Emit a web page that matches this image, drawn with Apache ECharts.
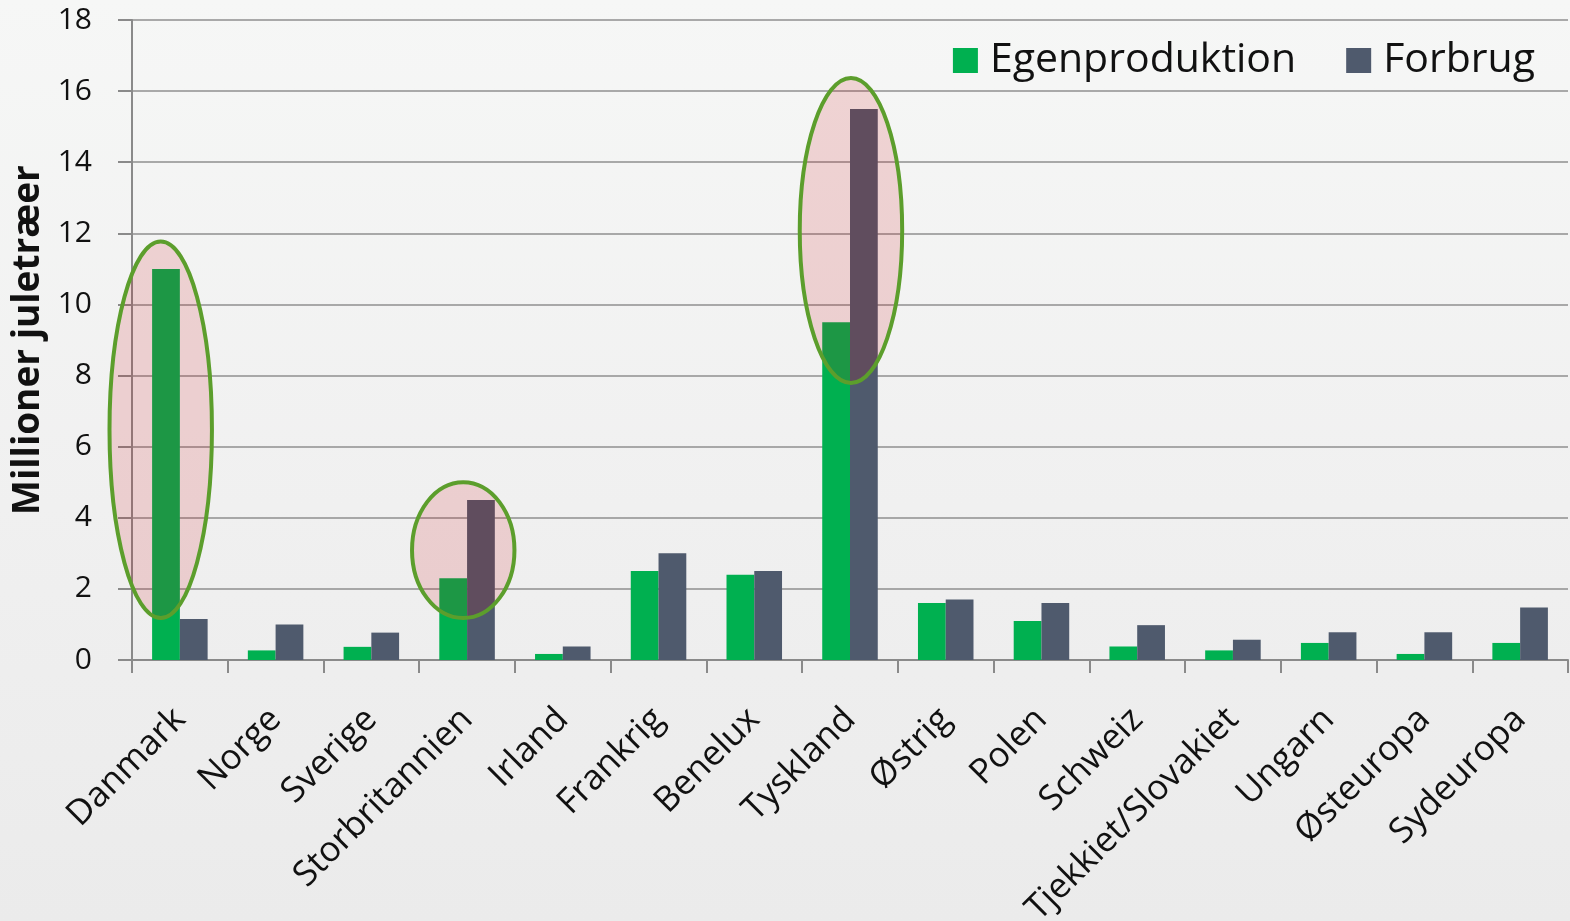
<!DOCTYPE html>
<html>
<head>
<meta charset="utf-8">
<script src="https://cdn.jsdelivr.net/npm/echarts@6/dist/echarts.min.js"></script>
<style>
html,body{margin:0;padding:0;width:1570px;height:921px;overflow:hidden;}
#c{width:1570px;height:921px;background:linear-gradient(180deg,#f6f7f6 0%,#f0f0f0 55%,#ebebeb 100%);}
</style>
</head>
<body>
<div id="c"></div>
<script>
const categories = ["Danmark","Norge","Sverige","Storbritannien","Irland","Frankrig","Benelux","Tyskland","Østrig","Polen","Schweiz","Tjekkiet/Slovakiet","Ungarn","Østeuropa","Sydeuropa"];
const egenproduktion = [11.0,0.27,0.37,2.3,0.17,2.5,2.4,9.5,1.6,1.1,0.38,0.27,0.48,0.17,0.48];
const forbrug = [1.15,1.0,0.77,4.5,0.38,3.0,2.5,15.5,1.7,1.6,0.98,0.57,0.78,0.78,1.48];
const yTicks = [0,2,4,6,8,10,12,14,16,18];
// highlight ellipses: category index, horizontal shift (in categories), width (in categories), top & bottom values
const highlightCat = [0,3,7];
const highlightShift = [-0.2,-0.04,0.01];
const highlightWidth = [1.07,1.07,1.07];
const highlightTop = [11.77,5.0,16.37];
const highlightBottom = [1.18,1.18,7.79];

const chart = echarts.init(document.getElementById('c'), null, {renderer:'canvas'});
const font = "'Open Sans', 'DejaVu Sans', sans-serif";
chart.setOption({
  backgroundColor: 'transparent',
  animation: false,
  grid: {left:132, right:2, top:20, bottom:261, containLabel:false, outerBoundsMode:'none'},
  legend: {
    right: 30, top: 35,
    itemWidth: 25, itemHeight: 25, itemGap: 50,
    icon: 'rect',
    textStyle: {fontFamily: font, fontSize: 41, color:'#111', padding:[0,0,0,7]},
    data: ['Egenproduktion','Forbrug']
  },
  xAxis: {
    type: 'category',
    data: categories,
    axisLine: {lineStyle:{color:'#8a8a8a', width:2}},
    axisTick: {show:true, length:13, lineStyle:{color:'#8a8a8a', width:2}, alignWithLabel:false},
    axisLabel: {rotate:45, fontFamily: font, fontSize: 35, color:'#111', margin: 54, interval:0}
  },
  yAxis: {
    type: 'value',
    min: 0, max: 18, interval: 2,
    name: 'Millioner juletræer',
    nameLocation: 'middle',
    nameGap: 83,
    nameRotate: 90,
    nameTextStyle: {fontFamily: font, fontSize: 37, fontWeight:'bold', color:'#111'},
    axisLine: {show:true, lineStyle:{color:'#8a8a8a', width:2}},
    axisTick: {show:true, length:14, lineStyle:{color:'#8a8a8a', width:2}},
    axisLabel: {fontFamily: font, fontSize: 30, color:'#111', margin: 40,
      formatter: v => yTicks.includes(v) ? String(v) : ''},
    splitLine: {lineStyle:{color:'#8f8f8f', width:1.5}}
  },
  series: [
    {name:'Egenproduktion', type:'bar', data: egenproduktion, itemStyle:{color:'#00b050'}, barGap:'0%', barCategoryGap:'42%'},
    {name:'Forbrug', type:'bar', data: forbrug, itemStyle:{color:'#4f5a6d'}},
    {
      type:'custom', z: 5, silent:true,
      data: highlightCat.map((c,i)=>[c, highlightShift[i], highlightWidth[i], highlightTop[i], highlightBottom[i]]),
      renderItem: function(params, api){
        const cat = api.value(0);
        const bw = api.size([1,0])[0];
        const top = api.coord([cat, api.value(3)]);
        const bot = api.coord([cat, api.value(4)]);
        const cx = top[0] + api.value(1)*bw;
        const rx = api.value(2)*bw/2;
        const cy = (top[1]+bot[1])/2;
        const ry = (bot[1]-top[1])/2;
        return {
          type:'ellipse',
          shape:{cx:cx, cy:cy, rx:rx, ry:ry},
          style:{fill:'rgba(205,0,10,0.14)', stroke:'#5c9e2c', lineWidth:4}
        };
      }
    }
  ]
});
</script>
</body>
</html>
